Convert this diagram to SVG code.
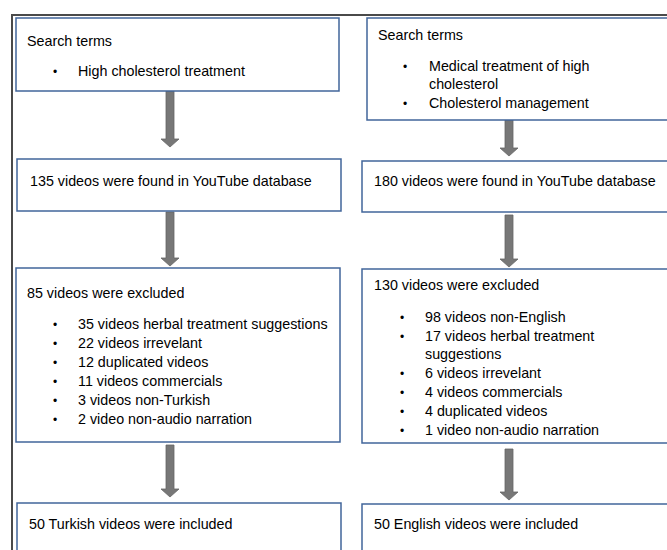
<svg xmlns="http://www.w3.org/2000/svg" width="667" height="550" viewBox="0 0 667 550">
<style>
.box{fill:#fff;stroke:#41659a;stroke-width:1.5}
.t{font-family:"Liberation Sans",Arial,sans-serif;font-size:14.3px;fill:#000}
.b{font-family:"Liberation Sans",Arial,sans-serif;font-size:12px;fill:#000}
.arr{fill:#777;stroke:#666;stroke-width:0.8}
</style>
<rect x="0" y="0" width="667" height="550" fill="#fff"/>
<path d="M12,550 V15 H667" fill="none" stroke="#4a4a4a" stroke-width="2"/>
<g id="connectors">
<path class="arr" d="M166,91 H174 V139 H179 L170,147 L161,139 H166 Z"/>
<path class="arr" d="M505,120 H513 V148 H518 L509,156 L500,148 H505 Z"/>
<path class="arr" d="M166,212 H174 V258 H179 L170,266 L161,258 H166 Z"/>
<path class="arr" d="M505,215 H513 V259 H518 L509,267 L500,259 H505 Z"/>
<path class="arr" d="M166,445 H174 V489 H179 L170,497 L161,489 H166 Z"/>
<path class="arr" d="M505,449 H513 V492 H518 L509,500 L500,492 H505 Z"/>
</g>
<g id="n1">
<rect class="box" x="16" y="18" width="323" height="73"/>
<text class="t" x="27" y="46">Search terms</text>
<text class="b" x="53" y="76">•</text>
<text class="t" x="78" y="76">High cholesterol treatment</text>
</g>
<g id="n2">
<rect class="box" x="367" y="18" width="310" height="102"/>
<text class="t" x="378" y="40">Search terms</text>
<text class="b" x="403" y="71">•</text>
<text class="t" x="429" y="71">Medical treatment of high</text>
<text class="t" x="429" y="89">cholesterol</text>
<text class="b" x="403" y="108">•</text>
<text class="t" x="429" y="108">Cholesterol management</text>
</g>
<g id="n3">
<rect class="box" x="17" y="159" width="324" height="52"/>
<text class="t" x="30" y="186">135 videos were found in YouTube database</text>
</g>
<g id="n4">
<rect class="box" x="362" y="161" width="315" height="51"/>
<text class="t" x="374" y="186">180 videos were found in YouTube database</text>
</g>
<g id="n5">
<rect class="box" x="16" y="268" width="324" height="174"/>
<text class="t" x="27" y="298">85 videos were excluded</text>
<text class="b" x="53" y="329">•</text><text class="t" x="78" y="329">35 videos herbal treatment suggestions</text>
<text class="b" x="53" y="348">•</text><text class="t" x="78" y="348">22 videos irrevelant</text>
<text class="b" x="53" y="367">•</text><text class="t" x="78" y="367">12 duplicated videos</text>
<text class="b" x="53" y="386">•</text><text class="t" x="78" y="386">11 videos commercials</text>
<text class="b" x="53" y="405">•</text><text class="t" x="78" y="405">3 videos non-Turkish</text>
<text class="b" x="53" y="424">•</text><text class="t" x="78" y="424">2 video non-audio narration</text>
</g>
<g id="n6">
<rect class="box" x="362" y="269" width="315" height="174"/>
<text class="t" x="374" y="290">130 videos were excluded</text>
<text class="b" x="400" y="322">•</text><text class="t" x="425" y="322">98 videos non-English</text>
<text class="b" x="400" y="341">•</text><text class="t" x="425" y="341">17 videos herbal treatment</text>
<text class="t" x="425" y="359">suggestions</text>
<text class="b" x="400" y="378">•</text><text class="t" x="425" y="378">6 videos irrevelant</text>
<text class="b" x="400" y="397">•</text><text class="t" x="425" y="397">4 videos commercials</text>
<text class="b" x="400" y="416">•</text><text class="t" x="425" y="416">4 duplicated videos</text>
<text class="b" x="400" y="435">•</text><text class="t" x="425" y="435">1 video non-audio narration</text>
</g>
<g id="n7">
<rect class="box" x="17" y="503" width="324" height="60"/>
<text class="t" x="29" y="529">50 Turkish videos were included</text>
</g>
<g id="n8">
<rect class="box" x="362" y="504" width="315" height="60"/>
<text class="t" x="374" y="529">50 English videos were included</text>
</g>
</svg>
